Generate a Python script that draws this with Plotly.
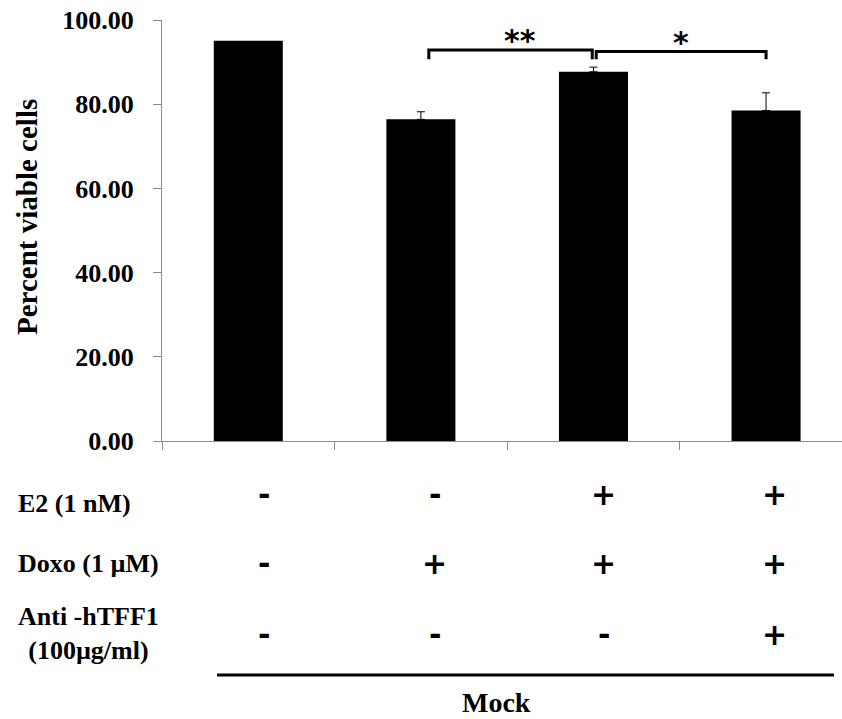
import plotly.graph_objects as go

# Cell viability data (Mock)
groups = ["G1", "G2", "G3", "G4"]
viability = [95.1, 76.4, 87.7, 78.5]
sem = [0.0, 1.8, 1.1, 4.2]
tick_values = [0, 20, 40, 60, 80, 100]

# Treatment table below the bars
row_labels = ["E2 (1 nM)", "Doxo (1 µM)", "Anti -hTFF1<br>(100µg/ml)"]
e2 = ["-", "-", "+", "+"]
doxo = ["-", "+", "+", "+"]
anti_tff1 = ["-", "-", "-", "+"]

# Significance comparisons: (from, to, label)
comparisons = [(1, 2, "**"), (2, 3, "*")]

FONT = "Liberation Serif"
SYM_FONT = "DejaVu Sans"
xpos = list(range(len(groups)))

fig = go.Figure()
fig.add_trace(go.Bar(
    x=xpos, y=viability, width=0.4,
    marker=dict(color="black", line=dict(width=0)),
    showlegend=False,
))
# upper error bars (skip groups without a reported error)
err_x = [x for x, e in zip(xpos, sem) if e > 0]
err_y = [v for v, e in zip(viability, sem) if e > 0]
err_v = [e for e in sem if e > 0]
fig.add_trace(go.Scatter(
    x=err_x, y=err_y, mode="markers",
    marker=dict(size=0.1, color="black", opacity=0),
    error_y=dict(type="data", symmetric=False, array=err_v,
                 arrayminus=[0] * len(err_v), color="black",
                 thickness=1, width=4),
    showlegend=False, hoverinfo="skip",
))

shapes = []
annotations = []

# brackets with stars
bracket_top = [92.9, 92.5]
star_y = [95.2, 94.7]
star_dx = [0.055, 0.0]
for (a, b, lab), top, sy, dx in zip(comparisons, bracket_top, star_y, star_dx):
    x0 = a + (0.046 if a == 1 else 0.016)
    x1 = b - (0.007 if b == 2 else 0.0)
    foot = 90.7
    shapes.append(dict(type="path", xref="x", yref="y",
                       path=f"M {x0},{foot} L {x0},{top} L {x1},{top} L {x1},{foot}",
                       line=dict(color="black", width=3)))
    annotations.append(dict(x=(x0 + x1) / 2 + dx, y=sy, xref="x", yref="y",
                            text=f"<b>{lab}</b>", showarrow=False,
                            yanchor="middle",
                            font=dict(family=SYM_FONT, size=30, color="black")))

# treatment symbols
px_per_unit = 421.0
def ypaper(py):
    return (441 - py) / px_per_unit

shift = [0.09, 0.08, 0.06, 0.05]
rows_y = [494, 563, 634]
for row, py in zip([e2, doxo, anti_tff1], rows_y):
    for i, s in enumerate(row):
        annotations.append(dict(x=i + shift[i], y=ypaper(py), xref="x", yref="paper",
                                text=f"<b>{s}</b>", showarrow=False,
                                xanchor="center", yanchor="middle",
                                font=dict(family=SYM_FONT, size=30, color="black")))

label_y = [503, 563, 633]
for lab, py in zip(row_labels, label_y):
    annotations.append(dict(x=(88 - 162) / 680 if "<br>" in lab else (16 - 162) / 680,
                            y=ypaper(py), xref="paper", yref="paper",
                            text=f"<b>{lab}</b>", showarrow=False,
                            xanchor="center" if "<br>" in lab else "left",
                            yanchor="middle", align="center",
                            font=dict(family=FONT, size=26, color="black")))

# group underline and label
shapes.append(dict(type="line", xref="paper", yref="paper",
                   x0=(217 - 162) / 680, x1=(834 - 162) / 680,
                   y0=ypaper(675), y1=ypaper(675),
                   line=dict(color="black", width=3)))
annotations.append(dict(x=(496 - 162) / 680, y=ypaper(703), xref="paper", yref="paper",
                        text="<b>Mock</b>", showarrow=False,
                        xanchor="center", yanchor="middle",
                        font=dict(family=FONT, size=28, color="black")))

# y-axis title
annotations.append(dict(x=(27 - 162) / 680, y=ypaper(217), xref="paper", yref="paper",
                        text="<b>Percent viable cells</b>", showarrow=False,
                        textangle=-90, xanchor="center", yanchor="middle",
                        font=dict(family=FONT, size=29, color="black")))

fig.update_layout(
    width=842, height=719,
    margin=dict(l=162, r=0, t=20, b=278),
    paper_bgcolor="white", plot_bgcolor="white",
    shapes=shapes, annotations=annotations,
    xaxis=dict(range=[-0.5, 3.44], showgrid=False, zeroline=False,
               showline=True, linecolor="#8c8c8c", linewidth=1,
               tickmode="array", tickvals=[-0.5, 0.5, 1.5, 2.5],
               ticktext=["", "", "", ""], ticks="outside", ticklen=8,
               tickcolor="#8c8c8c", tickwidth=1),
    yaxis=dict(range=[0, 100], showgrid=False, zeroline=False,
               showline=True, linecolor="#8c8c8c", linewidth=1,
               tickmode="array", tickvals=tick_values, tickformat=".2f",
               ticks="outside", ticklen=8, tickcolor="#8c8c8c", tickwidth=1,
               ticklabelstandoff=14,
               tickfont=dict(family=FONT, size=26, color="black", weight="bold")),
)

fig.write_html("out.html")
